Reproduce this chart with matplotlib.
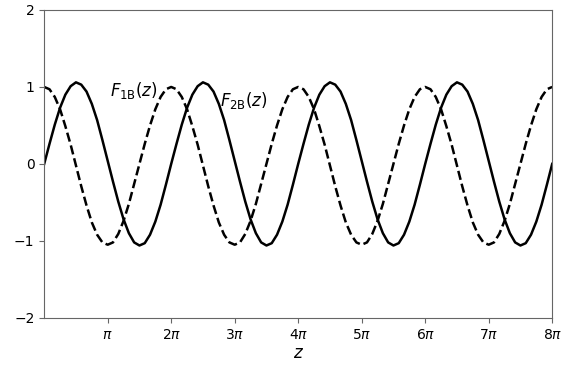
import numpy as np
import matplotlib.pyplot as plt

# one period (0..2pi, steps of pi/12)
f1b_period = [0.00, 0.26, 0.51, 0.73, 0.90, 1.01, 1.06, 1.03, 0.94, 0.78, 0.57, 0.31,
              0.04, -0.23, -0.49, -0.72, -0.90, -1.02, -1.06, -1.03, -0.92, -0.75, -0.53, -0.27]
f2b_period = [1.00, 0.97, 0.87, 0.71, 0.49, 0.25, -0.02, -0.29, -0.54, -0.76, -0.92, -1.02,
              -1.05, -1.02, -0.91, -0.74, -0.52, -0.26, 0.00, 0.26, 0.50, 0.71, 0.87, 0.97]
n_periods = 4

f1b = np.append(np.tile(f1b_period, n_periods), f1b_period[0])
f2b = np.append(np.tile(f2b_period, n_periods), f2b_period[0])
z = np.linspace(0, 2 * np.pi * n_periods, len(f1b))

xticks = np.arange(1, 9) * np.pi
xticklabels = [r'$\pi$'] + [r'$%d\pi$' % k for k in range(2, 9)]

plt.rcParams['axes.edgecolor'] = '0.4'
plt.rcParams['xtick.color'] = '0.4'
plt.rcParams['ytick.color'] = '0.4'
plt.rcParams['xtick.labelcolor'] = 'black'
plt.rcParams['ytick.labelcolor'] = 'black'

fig = plt.figure(figsize=(5.74, 3.70), dpi=100)
ax = fig.add_axes([0.077, 0.141, 0.885, 0.832])

ax.plot(z, f1b, 'k-', lw=1.8)
ax.plot(z, f2b, 'k--', lw=1.8)

ax.text(1.04 * np.pi, 0.96, r'$F_{1\mathrm{B}}(z)$', fontsize=12, va='center')
ax.text(2.77 * np.pi, 0.83, r'$F_{2\mathrm{B}}(z)$', fontsize=12, va='center')

ax.set_xlim(0, 8 * np.pi)
ax.set_ylim(-2, 2)
ax.set_xticks(xticks)
ax.set_xticklabels(xticklabels)
ax.set_yticks([-2, -1, 0, 1, 2])
ax.set_xlabel(r'$z$', fontsize=12, labelpad=2)

fig.savefig('out.png', dpi=100)
